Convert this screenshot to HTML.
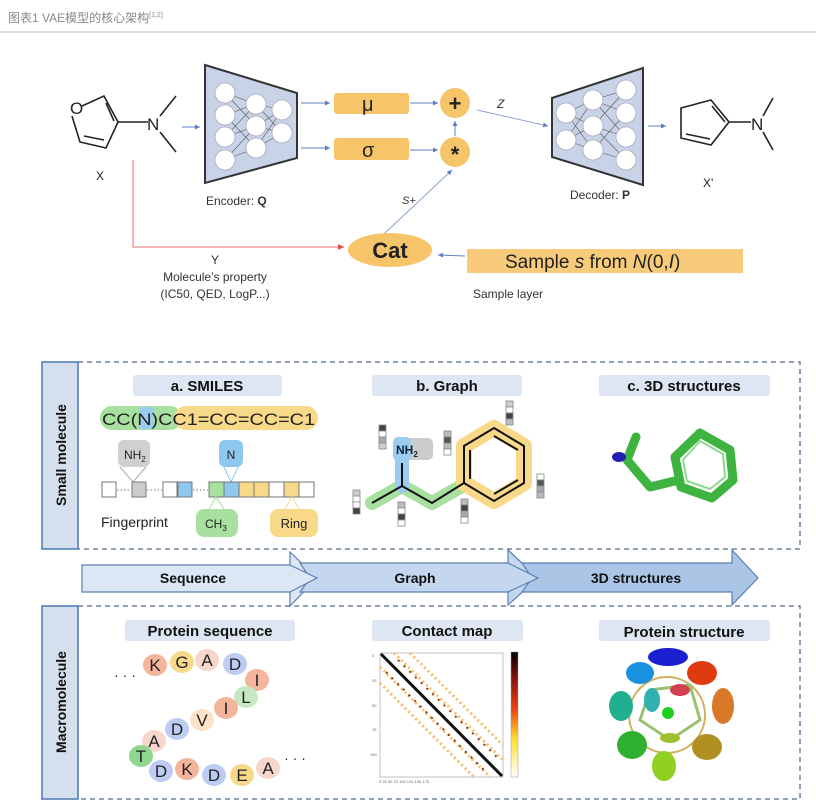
<!DOCTYPE html>
<html><head><meta charset="utf-8"><style>
html,body{margin:0;padding:0;background:#fff;}
svg{display:block;}
text{font-family:"Liberation Sans","Noto Sans CJK SC",sans-serif;}
</style></head><body>
<svg width="816" height="804" viewBox="0 0 816 804" xmlns="http://www.w3.org/2000/svg">
<defs>
<marker id="ab" markerWidth="6" markerHeight="6" refX="5" refY="3" orient="auto"><path d="M0,0.5 L5,3 L0,5.5z" fill="#5a7fc0"/></marker>
<marker id="ar" markerWidth="6" markerHeight="6" refX="5" refY="3" orient="auto"><path d="M0,0.5 L5,3 L0,5.5z" fill="#e05050"/></marker>
</defs>
<text x="8" y="22" font-size="12" fill="#888" font-family="Liberation Serif,Noto Serif CJK SC,serif">图表1 VAE模型的核心架构<tspan font-size="7" dy="-5">[1,2]</tspan></text>
<line x1="0" y1="32" x2="816" y2="32" stroke="#bbb"/>

<g stroke="#222" stroke-width="1.6" fill="none">
<path d="M82,106 L104,96 L118,122 L106,148 L80,142 L72,116"/>
<path d="M106,103 L114,121 M104,140 L84,136"/>
<path d="M118,122 L148,122 M160,116 L176,96 M160,132 L176,152"/>
</g>
<text x="70" y="114" font-size="17" fill="#222">O</text>
<text x="147" y="130" font-size="17" fill="#222">N</text>
<text x="96" y="180" font-size="12" fill="#222">X</text>
<line x1="182" y1="127" x2="200" y2="127" stroke="#5a7fc0" marker-end="url(#ab)"/>

<path d="M205,65 L297,93 L297,158 L205,183z" fill="#c9d3e8" stroke="#333" stroke-width="2"/>
<g stroke="#555" stroke-width="0.6">
<path d="M225,93 L256,104 M225,93 L256,126 M225,115 L256,104 M225,115 L256,148 M225,137 L256,126 M225,137 L256,104 M225,160 L256,148 M225,160 L256,126 M256,104 L282,110 M256,104 L282,133 M256,126 L282,110 M256,126 L282,133 M256,148 L282,110 M256,148 L282,133"/>
</g>
<g fill="#fff" stroke="#aab" stroke-width="0.8">
<circle cx="225" cy="93" r="10"/><circle cx="225" cy="115" r="10"/><circle cx="225" cy="137" r="10"/><circle cx="225" cy="160" r="10"/>
<circle cx="256" cy="104" r="10"/><circle cx="256" cy="126" r="10"/><circle cx="256" cy="148" r="10"/>
<circle cx="282" cy="110" r="10"/><circle cx="282" cy="133" r="10"/>
</g>
<text x="206" y="205" font-size="12" fill="#333">Encoder: <tspan font-weight="bold">Q</tspan></text>

<line x1="301" y1="103" x2="330" y2="103" stroke="#5a7fc0" marker-end="url(#ab)"/>
<line x1="301" y1="148" x2="330" y2="148" stroke="#5a7fc0" marker-end="url(#ab)"/>
<rect x="334" y="93" width="75" height="21" rx="3" fill="#f6c56a"/>
<rect x="334" y="138" width="75" height="22" rx="3" fill="#f6c56a"/>
<text x="362" y="111" font-size="20" fill="#222">μ</text>
<text x="362" y="157" font-size="20" fill="#222">σ</text>
<line x1="410" y1="103" x2="438" y2="103" stroke="#5a7fc0" marker-end="url(#ab)"/>
<line x1="410" y1="150" x2="438" y2="150" stroke="#5a7fc0" marker-end="url(#ab)"/>
<circle cx="455" cy="103" r="15" fill="#f6c56a"/>
<circle cx="455" cy="152" r="15" fill="#f6c56a"/>
<text x="455" y="111" font-size="22" font-weight="bold" text-anchor="middle" fill="#222">+</text>
<text x="455" y="162" font-size="22" font-weight="bold" text-anchor="middle" fill="#222">*</text>
<line x1="455" y1="136" x2="455" y2="121" stroke="#5a7fc0" marker-end="url(#ab)"/>
<line x1="477" y1="110" x2="548" y2="126" stroke="#8ea5d0" marker-end="url(#ab)"/>
<text x="497" y="108" font-size="12" font-style="italic" fill="#333">Z</text>

<path d="M552,98 L643,68 L643,185 L552,157z" fill="#c9d3e8" stroke="#333" stroke-width="2"/>
<g stroke="#555" stroke-width="0.6">
<path d="M566,113 L593,100 M566,113 L593,126 M566,113 L593,150 M566,140 L593,100 M566,140 L593,126 M566,140 L593,150 M593,100 L626,90 M593,100 L626,113 M593,100 L626,137 M593,126 L626,90 M593,126 L626,160 M593,150 L626,113 M593,150 L626,160 M593,126 L626,137"/>
</g>
<g fill="#fff" stroke="#aab" stroke-width="0.8">
<circle cx="566" cy="113" r="10"/><circle cx="566" cy="140" r="10"/>
<circle cx="593" cy="100" r="10"/><circle cx="593" cy="126" r="10"/><circle cx="593" cy="150" r="10"/>
<circle cx="626" cy="90" r="10"/><circle cx="626" cy="113" r="10"/><circle cx="626" cy="137" r="10"/><circle cx="626" cy="160" r="10"/>
</g>
<text x="570" y="199" font-size="12" fill="#333">Decoder: <tspan font-weight="bold">P</tspan></text>
<line x1="648" y1="126" x2="666" y2="126" stroke="#5a7fc0" marker-end="url(#ab)"/>
<g stroke="#222" stroke-width="1.6" fill="none">
<path d="M681,108 L711,100 L729,122 L711,145 L681,138z"/>
<path d="M712,106 L725,122 M710,139 L686,134"/>
<path d="M729,122 L751,122 M763,116 L773,98 M763,132 L773,150"/>
</g>
<text x="751" y="130" font-size="17" fill="#222">N</text>
<text x="703" y="187" font-size="12" fill="#222">X'</text>

<line x1="384" y1="234" x2="452" y2="170" stroke="#8ea5d0" marker-end="url(#ab)"/>
<text x="402" y="204" font-size="11" font-style="italic" fill="#333">S+</text>
<ellipse cx="390" cy="250" rx="42" ry="17" fill="#f6c56a"/>
<text x="390" y="258" font-size="22" font-weight="bold" text-anchor="middle" fill="#222">Cat</text>
<rect x="467" y="249" width="276" height="24" fill="#f6c56a" opacity="0.9"/>
<text x="505" y="268" font-size="19" fill="#222">Sample <tspan font-style="italic">s</tspan> from <tspan font-style="italic">N</tspan>(0,<tspan font-style="italic">I</tspan>)</text>
<line x1="465" y1="256" x2="438" y2="255" stroke="#5a7fc0" marker-end="url(#ab)"/>
<text x="473" y="298" font-size="12" fill="#333">Sample layer</text>
<polyline points="133,160 133,247 344,247" fill="none" stroke="#e88" stroke-width="1.2" marker-end="url(#ar)"/>
<text x="215" y="264" font-size="12" text-anchor="middle" fill="#333">Y</text>
<text x="215" y="281" font-size="12" text-anchor="middle" fill="#333">Molecule’s property</text>
<text x="215" y="298" font-size="12" text-anchor="middle" fill="#333">(IC50, QED, LogP...)</text>

<rect x="78" y="362" width="722" height="187" fill="none" stroke="#556a8a" stroke-dasharray="5,4" stroke-width="1.3"/>
<rect x="42" y="362" width="36" height="187" fill="#d5e0ef" stroke="#4d78b5" stroke-width="1.5"/>
<text transform="translate(66,455) rotate(-90)" font-size="14" font-weight="bold" text-anchor="middle" fill="#111">Small molecule</text>
<rect x="133" y="375" width="149" height="21" rx="3" fill="#dde6f2"/>
<rect x="372" y="375" width="150" height="21" rx="3" fill="#dde6f2"/>
<rect x="599" y="375" width="171" height="21" rx="3" fill="#dde6f2"/>
<text x="207" y="391" font-size="15" font-weight="bold" text-anchor="middle" fill="#111">a. SMILES</text>
<text x="447" y="391" font-size="15" font-weight="bold" text-anchor="middle" fill="#111">b. Graph</text>
<text x="684" y="391" font-size="15" font-weight="bold" text-anchor="middle" fill="#111">c. 3D structures</text>

<rect x="100" y="406" width="82" height="24" rx="12" fill="#a8e0a0"/>
<rect x="174" y="406" width="144" height="24" rx="12" fill="#f8d98a"/>
<rect x="139" y="407" width="15" height="22" fill="#9ccdf0"/>
<text x="102" y="425" font-size="17" fill="#222" textLength="213" lengthAdjust="spacingAndGlyphs">CC(N)CC1=CC=CC=C1</text>

<rect x="118" y="440" width="32" height="27" rx="6" fill="#d0d0d0"/>
<path d="M120,467 L133,482 L146,467" fill="none" stroke="#aaa"/>
<text x="124" y="459" font-size="12" fill="#222">NH<tspan font-size="8" dy="3">2</tspan></text>
<rect x="219" y="440" width="24" height="27" rx="6" fill="#8ec8ef"/>
<text x="231" y="459" font-size="12" text-anchor="middle" fill="#222">N</text>
<path d="M224,467 L231,482 L238,467" fill="none" stroke="#8ec8ef"/>
<g stroke="#777" stroke-width="1">
<rect x="102" y="482" width="14" height="15" fill="#fff"/>
<rect x="132" y="482" width="14" height="15" fill="#ccc"/>
<rect x="163" y="482" width="14" height="15" fill="#fff"/>
<rect x="178" y="482" width="14" height="15" fill="#8ec8ef"/>
<rect x="209" y="482" width="15" height="15" fill="#a8e0a0"/>
<rect x="224" y="482" width="15" height="15" fill="#8ec8ef"/>
<rect x="239" y="482" width="15" height="15" fill="#f8d98a"/>
<rect x="254" y="482" width="15" height="15" fill="#f8d98a"/>
<rect x="269" y="482" width="15" height="15" fill="#fff"/>
<rect x="284" y="482" width="15" height="15" fill="#f8d98a"/>
<rect x="299" y="482" width="15" height="15" fill="#fff"/>
</g>
<g stroke="#777" stroke-dasharray="1.5,2"><line x1="117" y1="490" x2="131" y2="490"/><line x1="147" y1="490" x2="162" y2="490"/><line x1="193" y1="490" x2="208" y2="490"/></g>
<path d="M209,509 L216,497 L224,509" fill="none" stroke="#a8e0a0"/>
<path d="M285,509 L292,497 L299,509" fill="none" stroke="#f8d98a"/>
<rect x="196" y="509" width="42" height="28" rx="8" fill="#a8e0a0"/>
<text x="205" y="528" font-size="12" fill="#222">CH<tspan font-size="8" dy="3">3</tspan></text>
<rect x="270" y="509" width="48" height="28" rx="8" fill="#f8d98a"/>
<text x="294" y="528" font-size="13" text-anchor="middle" fill="#222">Ring</text>
<text x="101" y="527" font-size="14" fill="#222">Fingerprint</text>

<path d="M372,503 L402,486 L432,503 L460,487" fill="none" stroke="#a8e0a0" stroke-width="14" stroke-linecap="round" stroke-linejoin="round"/>
<path d="M402,486 L402,445" stroke="#9ccdf0" stroke-width="14" stroke-linecap="round"/>
<polygon points="494,428 524,446 524,483 494,501 464,483 464,446" fill="none" stroke="#f8d98a" stroke-width="16" stroke-linejoin="round"/>
<rect x="393" y="438" width="40" height="22" rx="5" fill="#ccc"/>
<rect x="393" y="437" width="18" height="24" rx="5" fill="#9ccdf0"/>
<text x="396" y="454" font-size="12" font-weight="bold" fill="#123">NH<tspan font-size="8" dy="3">2</tspan></text>
<g fill="none" stroke="#111" stroke-width="2">
<path d="M372,503 L402,486 L432,503 L464,483"/><path d="M402,486 L402,463"/>
<polygon points="494,428 524,446 524,483 494,501 464,483 464,446"/>
<path d="M494,436 L518,450 M518,480 L494,494 M470,479 L470,450"/>
</g>
<g stroke="#888" stroke-width="0.8">
<g transform="translate(379,425)"><rect width="7" height="6" fill="#444"/><rect y="6" width="7" height="6" fill="#fff"/><rect y="12" width="7" height="6" fill="#aaa"/><rect y="18" width="7" height="6" fill="#ccc"/></g>
<g transform="translate(444,431)"><rect width="7" height="6" fill="#bbb"/><rect y="6" width="7" height="6" fill="#555"/><rect y="12" width="7" height="6" fill="#bbb"/><rect y="18" width="7" height="6" fill="#fff"/></g>
<g transform="translate(506,401)"><rect width="7" height="6" fill="#ccc"/><rect y="6" width="7" height="6" fill="#fff"/><rect y="12" width="7" height="6" fill="#444"/><rect y="18" width="7" height="6" fill="#bbb"/></g>
<g transform="translate(537,474)"><rect width="7" height="6" fill="#fff"/><rect y="6" width="7" height="6" fill="#555"/><rect y="12" width="7" height="6" fill="#aaa"/><rect y="18" width="7" height="6" fill="#bbb"/></g>
<g transform="translate(353,490)"><rect width="7" height="6" fill="#ccc"/><rect y="6" width="7" height="6" fill="#fff"/><rect y="12" width="7" height="6" fill="#fff"/><rect y="18" width="7" height="6" fill="#444"/></g>
<g transform="translate(398,502)"><rect width="7" height="6" fill="#bbb"/><rect y="6" width="7" height="6" fill="#fff"/><rect y="12" width="7" height="6" fill="#444"/><rect y="18" width="7" height="6" fill="#fff"/></g>
<g transform="translate(461,499)"><rect width="7" height="6" fill="#bbb"/><rect y="6" width="7" height="6" fill="#444"/><rect y="12" width="7" height="6" fill="#aaa"/><rect y="18" width="7" height="6" fill="#fff"/></g>
</g>

<g fill="none" stroke="#3fb33f" stroke-width="9" stroke-linecap="round" stroke-linejoin="round">
<path d="M636,437 L627,460 L650,487 L679,480"/>
<polygon points="700,433 730,450 733,480 712,498 681,487 675,457"/>
</g>
<polygon points="700,441 723,454 725,477 710,489 687,481 683,460" fill="none" stroke="#8fd88f" stroke-width="2"/>
<ellipse cx="619" cy="457" rx="7" ry="5" fill="#2020b0"/>

<path d="M82,565 L290,565 L290,552 L317,578 L290,606 L290,592 L82,592z" fill="#dce7f5" stroke="#5b7fb0" stroke-width="1.2"/>
<path d="M300,563 L508,563 L508,550 L538,578 L508,605 L508,592 L300,592 L310,578z" fill="#c4d7ee" stroke="#5b7fb0" stroke-width="1.2"/>
<path d="M522,563 L732,563 L732,550 L758,578 L732,605 L732,592 L522,592 L532,578z" fill="#aac5e6" stroke="#5b7fb0" stroke-width="1.2"/>
<path d="M290,565 L317,578 L290,592" fill="#dce7f5" stroke="#5b7fb0" stroke-width="1.2"/>
<path d="M508,563 L538,578 L508,592" fill="#c4d7ee" stroke="#5b7fb0" stroke-width="1.2"/>
<text x="193" y="583" font-size="14" font-weight="bold" text-anchor="middle" fill="#111">Sequence</text>
<text x="415" y="583" font-size="14" font-weight="bold" text-anchor="middle" fill="#111">Graph</text>
<text x="636" y="583" font-size="14" font-weight="bold" text-anchor="middle" fill="#111">3D structures</text>

<rect x="78" y="606" width="722" height="193" fill="none" stroke="#556a8a" stroke-dasharray="5,4" stroke-width="1.3"/>
<rect x="42" y="606" width="36" height="193" fill="#d5e0ef" stroke="#4d78b5" stroke-width="1.5"/>
<text transform="translate(66,702) rotate(-90)" font-size="14" font-weight="bold" text-anchor="middle" fill="#111">Macromolecule</text>
<rect x="125" y="620" width="170" height="21" rx="3" fill="#dde6f2"/>
<rect x="372" y="620" width="151" height="21" rx="3" fill="#dde6f2"/>
<rect x="599" y="620" width="171" height="21" rx="3" fill="#dde6f2"/>
<text x="210" y="636" font-size="15" font-weight="bold" text-anchor="middle" fill="#111">Protein sequence</text>
<text x="447" y="636" font-size="15" font-weight="bold" text-anchor="middle" fill="#111">Contact map</text>
<text x="684" y="637" font-size="15" font-weight="bold" text-anchor="middle" fill="#111">Protein structure</text>

<g font-size="17" text-anchor="middle" fill="#222">
<ellipse cx="155" cy="665" rx="12" ry="11" fill="#f4b59c"/><text x="155" y="671">K</text>
<ellipse cx="182" cy="662" rx="12" ry="11" fill="#f8d98a"/><text x="182" y="668">G</text>
<ellipse cx="207" cy="660" rx="12" ry="11" fill="#f7d6cc"/><text x="207" y="666">A</text>
<ellipse cx="235" cy="664" rx="12" ry="11" fill="#bcccf2"/><text x="235" y="670">D</text>
<ellipse cx="257" cy="680" rx="12" ry="11" fill="#f4b59c"/><text x="257" y="686">I</text>
<ellipse cx="246" cy="697" rx="12" ry="11" fill="#c6e9c3"/><text x="246" y="703">L</text>
<ellipse cx="226" cy="708" rx="12" ry="11" fill="#f4b59c"/><text x="226" y="714">I</text>
<ellipse cx="202" cy="720" rx="12" ry="11" fill="#fbe3c8"/><text x="202" y="726">V</text>
<ellipse cx="177" cy="729" rx="12" ry="11" fill="#bcccf2"/><text x="177" y="735">D</text>
<ellipse cx="154" cy="741" rx="12" ry="11" fill="#f7d6cc"/><text x="154" y="747">A</text>
<ellipse cx="141" cy="756" rx="12" ry="11" fill="#8fd68f"/><text x="141" y="762">T</text>
<ellipse cx="161" cy="771" rx="12" ry="11" fill="#bcccf2"/><text x="161" y="777">D</text>
<ellipse cx="187" cy="769" rx="12" ry="11" fill="#f4b59c"/><text x="187" y="775">K</text>
<ellipse cx="214" cy="775" rx="12" ry="11" fill="#bcccf2"/><text x="214" y="781">D</text>
<ellipse cx="242" cy="775" rx="12" ry="11" fill="#f8d98a"/><text x="242" y="781">E</text>
<ellipse cx="268" cy="768" rx="12" ry="11" fill="#f7d6cc"/><text x="268" y="774">A</text>
<text x="125" y="680" font-size="14">· · ·</text>
<text x="295" y="763" font-size="14">· · ·</text>
</g>

<rect x="380" y="653" width="123" height="124" fill="#fff" stroke="#999" stroke-width="0.6"/>
<g stroke="#f5b040" stroke-width="3" stroke-dasharray="2,3" opacity="0.8" fill="none">
<line x1="394" y1="653" x2="503" y2="760"/><line x1="380" y1="667" x2="490" y2="777"/>
<line x1="410" y1="653" x2="503" y2="745"/><line x1="380" y1="683" x2="474" y2="777"/>
</g>
<g stroke="#8a3a10" stroke-width="2" stroke-dasharray="2,6" fill="none">
<line x1="398" y1="660" x2="500" y2="760"/><line x1="386" y1="672" x2="486" y2="772"/>
</g>
<line x1="381" y1="654" x2="502" y2="776" stroke="#111" stroke-width="3"/>
<g font-size="4" fill="#666"><text x="372" y="657">0</text><text x="372" y="682">25</text><text x="372" y="707">50</text><text x="372" y="731">75</text><text x="370" y="756">150</text><text x="379" y="783">0 25 50 75 100 125 150 175</text></g>
<defs><linearGradient id="cb" x1="0" y1="1" x2="0" y2="0"><stop offset="0" stop-color="#fff"/><stop offset="0.3" stop-color="#ffe030"/><stop offset="0.55" stop-color="#e84010"/><stop offset="0.8" stop-color="#801010"/><stop offset="1" stop-color="#000"/></linearGradient></defs>
<rect x="511" y="652" width="7" height="125" fill="url(#cb)" stroke="#999" stroke-width="0.5"/>

<g fill="none" stroke-width="6" stroke-linecap="round">
<circle cx="667" cy="715" r="38" stroke="#d0b060" stroke-width="2"/>
<path d="M650,690 L690,685 L700,720 L670,740 L640,720z" stroke="#9ac070" stroke-width="3"/>
</g>
<g stroke-width="0">
<ellipse cx="668" cy="657" rx="20" ry="9" fill="#1a20d0"/>
<ellipse cx="640" cy="673" rx="14" ry="11" fill="#1a90e0"/>
<ellipse cx="702" cy="673" rx="15" ry="12" fill="#e03a10"/>
<ellipse cx="723" cy="706" rx="11" ry="18" fill="#d87828"/>
<ellipse cx="707" cy="747" rx="15" ry="13" fill="#b09020"/>
<ellipse cx="664" cy="766" rx="12" ry="15" fill="#90d020"/>
<ellipse cx="632" cy="745" rx="15" ry="14" fill="#30b030"/>
<ellipse cx="621" cy="706" rx="12" ry="15" fill="#20b090"/>
<ellipse cx="652" cy="700" rx="8" ry="12" fill="#30b0b0"/>
<ellipse cx="680" cy="690" rx="10" ry="6" fill="#d04050"/>
<ellipse cx="670" cy="738" rx="10" ry="5" fill="#a0c030"/>
</g>
<circle cx="668" cy="713" r="6" fill="#20d020"/>
</svg>
</body></html>
